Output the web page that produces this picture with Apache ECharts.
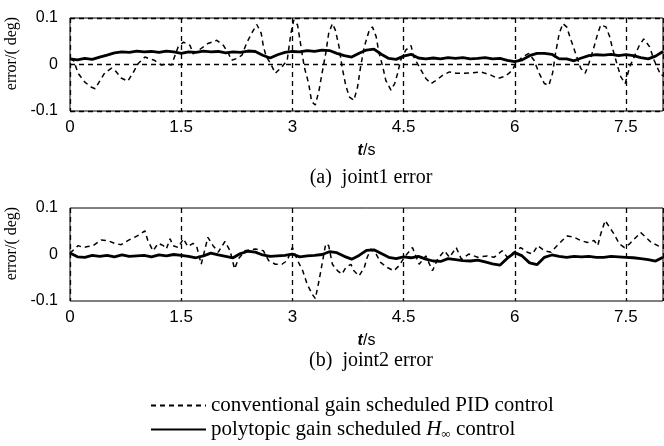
<!DOCTYPE html>
<html><head><meta charset="utf-8">
<script src="https://cdn.jsdelivr.net/npm/echarts@6/dist/echarts.min.js"></script>
<style>html,body{margin:0;padding:0;background:#fff}#c{width:664px;height:446px}</style>
</head><body><div id="c"></div>
<script>
// ---- data ----
const xTicks = [0, 1.5, 3, 4.5, 6, 7.5];
const yTicks = [-0.1, 0, 0.1];
const seriesNames = ['conventional gain scheduled PID control', 'polytopic gain scheduled H∞ control'];

const tSolid = [0,0.1,0.2,0.3,0.4,0.5,0.6,0.7,0.8,0.9,1.0,1.1,1.2,1.3,1.4,1.5,1.6,1.7,1.8,1.9,2.0,2.1,2.2,2.3,2.4,2.5,2.6,2.7,2.8,2.9,3.0,3.1,3.2,3.3,3.4,3.5,3.6,3.7,3.8,3.9,4.0,4.1,4.2,4.3,4.4,4.5,4.6,4.7,4.8,4.9,5.0,5.1,5.2,5.3,5.4,5.5,5.6,5.7,5.8,5.9,6.0,6.1,6.2,6.3,6.4,6.5,6.6,6.7,6.8,6.9,7.0,7.1,7.2,7.3,7.4,7.5,7.6,7.7,7.8,7.9,8.0];

const j1Hinf = [0.012,0.010,0.013,0.011,0.016,0.020,0.025,0.027,0.026,0.029,0.027,0.028,0.026,0.029,0.027,0.024,0.027,0.026,0.029,0.027,0.028,0.025,0.027,0.026,0.029,0.028,0.020,0.014,0.021,0.026,0.028,0.027,0.030,0.028,0.031,0.030,0.024,0.019,0.016,0.024,0.031,0.033,0.022,0.013,0.011,0.018,0.022,0.014,0.012,0.014,0.012,0.015,0.013,0.015,0.012,0.013,0.015,0.012,0.013,0.009,0.006,0.010,0.019,0.024,0.024,0.022,0.012,0.012,0.008,0.014,0.019,0.021,0.020,0.022,0.019,0.021,0.019,0.015,0.012,0.018,0.028];

const j2Hinf = [0.003,-0.005,-0.006,-0.002,-0.004,-0.002,-0.005,-0.001,-0.004,-0.003,-0.002,-0.005,-0.001,-0.003,0.000,-0.002,-0.004,-0.007,-0.003,0.003,-0.001,-0.004,-0.007,0.002,0.007,0.005,-0.001,-0.004,-0.003,-0.002,0.001,-0.005,-0.003,-0.002,0.000,0.006,0.004,-0.004,-0.010,-0.002,0.009,0.010,0.002,-0.006,-0.009,-0.005,-0.007,-0.004,-0.010,-0.014,-0.015,-0.009,-0.011,-0.013,-0.014,-0.012,-0.016,-0.020,-0.023,-0.008,0.004,-0.003,-0.018,-0.022,-0.006,-0.001,-0.004,-0.006,-0.004,-0.005,-0.004,-0.006,-0.006,-0.004,-0.005,-0.006,-0.007,-0.009,-0.011,-0.014,-0.006];

const tJ1Pid = [0.0,0.05,0.11,0.2,0.29,0.34,0.40,0.47,0.56,0.62,0.69,0.78,0.85,0.92,1.01,1.08,1.14,1.23,1.30,1.37,1.46,1.53,1.62,1.66,1.73,1.86,1.98,2.07,2.14,2.18,2.25,2.32,2.38,2.45,2.52,2.58,2.61,2.65,2.70,2.77,2.86,2.93,2.98,3.02,3.07,3.11,3.16,3.22,3.26,3.31,3.36,3.40,3.45,3.49,3.54,3.58,3.63,3.67,3.72,3.77,3.83,3.88,3.92,3.97,4.03,4.08,4.13,4.17,4.22,4.26,4.33,4.38,4.42,4.46,4.53,4.60,4.64,4.71,4.80,4.87,4.94,5.03,5.12,5.21,5.30,5.41,5.54,5.68,5.77,5.86,5.92,5.97,6.01,6.10,6.19,6.26,6.33,6.40,6.46,6.51,6.55,6.60,6.65,6.70,6.76,6.82,6.89,6.95,7.00,7.07,7.12,7.16,7.23,7.28,7.32,7.39,7.43,7.49,7.55,7.61,7.68,7.74,7.82,7.88,7.97,8.0];
const j1Pid = [0.012,0.008,-0.019,-0.038,-0.049,-0.052,-0.036,-0.018,-0.008,-0.015,-0.029,-0.036,-0.018,0.002,0.016,0.012,0.009,-0.001,0.001,-0.001,0.038,0.048,0.041,0.023,0.030,0.045,0.052,0.041,0.023,0.009,0.013,0.020,0.045,0.067,0.086,0.067,0.038,0.016,0.004,-0.019,-0.005,0.009,0.067,0.096,0.085,0.045,-0.005,-0.041,-0.080,-0.087,-0.055,-0.019,0.024,0.067,0.088,0.074,0.038,-0.005,-0.045,-0.070,-0.077,-0.048,-0.005,0.038,0.070,0.081,0.060,0.024,-0.005,-0.034,-0.055,-0.041,-0.019,0.009,0.031,0.041,0.016,-0.005,-0.030,-0.041,-0.034,-0.023,-0.016,-0.019,-0.019,-0.018,-0.016,-0.023,-0.030,-0.026,-0.019,-0.012,0.002,0.016,0.024,0.009,-0.019,-0.041,-0.045,-0.019,0.024,0.067,0.088,0.081,0.052,0.024,-0.008,-0.019,0.002,0.038,0.067,0.085,0.081,0.060,0.034,-0.005,-0.026,-0.041,-0.005,0.016,0.041,0.055,0.038,0.009,-0.023,-0.023];

const tJ2Pid = [0.0,0.11,0.18,0.24,0.31,0.42,0.51,0.60,0.69,0.78,0.87,0.94,1.01,1.05,1.12,1.19,1.26,1.30,1.35,1.39,1.46,1.53,1.59,1.66,1.71,1.77,1.86,1.93,2.00,2.09,2.16,2.22,2.27,2.36,2.50,2.61,2.68,2.77,2.86,2.93,3.00,3.07,3.14,3.20,3.27,3.31,3.36,3.40,3.45,3.49,3.54,3.61,3.67,3.72,3.79,3.83,3.90,3.97,4.01,4.06,4.13,4.19,4.28,4.37,4.44,4.51,4.62,4.71,4.80,4.89,4.96,5.05,5.12,5.21,5.28,5.38,5.50,5.63,5.72,5.83,5.90,5.99,6.08,6.17,6.24,6.31,6.40,6.49,6.57,6.64,6.71,6.80,6.89,6.98,7.07,7.12,7.16,7.22,7.28,7.34,7.41,7.48,7.55,7.61,7.70,7.77,7.84,7.93,8.0];
const j2Pid = [0.003,0.019,0.015,0.017,0.019,0.031,0.030,0.024,0.021,0.030,0.037,0.043,0.051,0.030,0.008,0.024,0.019,0.012,0.034,0.019,0.015,0.034,0.017,0.024,0.017,-0.021,0.037,0.019,0.005,0.028,0.008,-0.031,-0.010,0.008,0.012,0.008,-0.013,-0.021,-0.021,-0.013,0.015,-0.013,-0.035,-0.064,-0.086,-0.095,-0.056,-0.021,0.023,0.019,-0.021,-0.035,-0.042,-0.028,-0.021,-0.035,-0.046,-0.028,-0.006,0.012,0.001,-0.017,-0.028,-0.035,-0.024,-0.006,0.015,-0.021,-0.003,-0.035,-0.010,0.008,-0.006,0.015,-0.010,0.001,-0.006,-0.003,-0.006,0.008,-0.006,0.005,0.015,0.005,0.001,0.019,0.008,0.005,0.019,0.030,0.040,0.037,0.030,0.026,0.030,0.019,0.044,0.073,0.058,0.044,0.023,0.015,0.023,0.033,0.047,0.037,0.026,0.019,0.015];

// ---- chart ----
const pair = (t, v) => t.map((x, i) => [x, v[i]]);
const sans = '"Liberation Sans Narrow","Arial Narrow","Liberation Sans",Arial,sans-serif';
const serif = '"Liberation Serif","Times New Roman",serif';

function xAx(gi) {
  return {
    type: 'value', gridIndex: gi, min: 0, max: 8, interval: 1.5,
    axisLine: {show: false}, axisTick: {show: false},
    axisLabel: {color: '#000', fontFamily: sans, fontSize: 17, margin: 8,
      alignMinLabel: 'center', alignMaxLabel: 'center',
      formatter: v => xTicks.includes(v) ? String(v) : ''},
    splitLine: {show: true, lineStyle: {color: '#000', type: [5, 4], width: 1.3}},
    name: '{i|t}/s', nameLocation: 'middle', nameGap: 32,
    nameTextStyle: {color: '#000', fontFamily: '"Liberation Sans",sans-serif', fontSize: 16,
      rich: {i: {fontStyle: 'italic', fontFamily: '"Liberation Sans",sans-serif', fontSize: 16, fontWeight: 'bold'}}}
  };
}
function yAx(gi, zeroLine) {
  return {
    type: 'value', gridIndex: gi, min: -0.1, max: 0.1, interval: 0.1,
    axisLine: {show: false}, axisTick: {show: false},
    axisLabel: {color: '#000', fontFamily: sans, fontSize: 16, margin: 12,
      formatter: v => yTicks.some(t => Math.abs(t - v) < 1e-9) ? String(Math.round(v * 10) / 10) : ''},
    splitLine: {show: zeroLine, lineStyle: {color: '#000', type: [5, 4], width: 1.3}},
    name: 'error/( deg)', nameLocation: 'middle', nameGap: 47,
    nameTextStyle: {color: '#000', fontFamily: serif, fontSize: 16, padding: [0, 0, 0, 22]}
  };
}
const dashStyle = {color: '#000', width: 1.5, type: [5, 4]};
const solidStyle = {color: '#000', width: 2.8, type: 'solid'};

const gridBase = {left: 70, right: 1, height: 93, show: true, borderColor: '#000', borderWidth: 1,
  backgroundColor: 'transparent', containLabel: false, outerBoundsMode: 'none'};

const chart = echarts.init(document.getElementById('c'), null, {renderer: 'canvas'});
chart.setOption({
  animation: false,
  backgroundColor: '#fff',
  grid: [
    Object.assign({top: 18}, gridBase),
    Object.assign({top: 208}, gridBase)
  ],
  xAxis: [xAx(0), xAx(1)],
  yAxis: [yAx(0, true), yAx(1, false)],
  title: [
    {text: '(a)  joint1 error', left: 366, top: 163, textAlign: 'center',
      textStyle: {fontFamily: serif, fontSize: 20, fontWeight: 'normal', color: '#000'}},
    {text: '(b)  joint2 error', left: 366, top: 346, textAlign: 'center',
      textStyle: {fontFamily: serif, fontSize: 20, fontWeight: 'normal', color: '#000'}}
  ],
  legend: {
    orient: 'vertical', left: 150, top: 395, padding: 0, itemGap: 3, itemWidth: 55, itemHeight: 14,
    data: seriesNames,
    itemStyle: {opacity: 0},
    textStyle: {fontFamily: serif, fontSize: 21, color: '#000',
      rich: {i: {fontFamily: serif, fontSize: 21, fontStyle: 'italic'}, s: {fontFamily: serif, fontSize: 13, verticalAlign: 'bottom', padding: [10, 0, 0, 0]}}},
    formatter: n => n === seriesNames[1] ? 'polytopic gain scheduled {i|H}{s|∞} control' : n
  },
  series: [
    {name: seriesNames[0], type: 'line', xAxisIndex: 0, yAxisIndex: 0, data: pair(tJ1Pid, j1Pid), showSymbol: false, symbol: 'none', itemStyle: {color: '#000'}, lineStyle: dashStyle, z: 2},
    {name: seriesNames[1], type: 'line', xAxisIndex: 0, yAxisIndex: 0, data: pair(tSolid, j1Hinf), showSymbol: false, symbol: 'none', itemStyle: {color: '#000'}, lineStyle: solidStyle, z: 3},
    {name: seriesNames[0], type: 'line', xAxisIndex: 1, yAxisIndex: 1, data: pair(tJ2Pid, j2Pid), showSymbol: false, symbol: 'none', itemStyle: {color: '#000'}, lineStyle: dashStyle, z: 2},
    {name: seriesNames[1], type: 'line', xAxisIndex: 1, yAxisIndex: 1, data: pair(tSolid, j2Hinf), showSymbol: false, symbol: 'none', itemStyle: {color: '#000'}, lineStyle: solidStyle, z: 3}
  ]
});
</script></body></html>
